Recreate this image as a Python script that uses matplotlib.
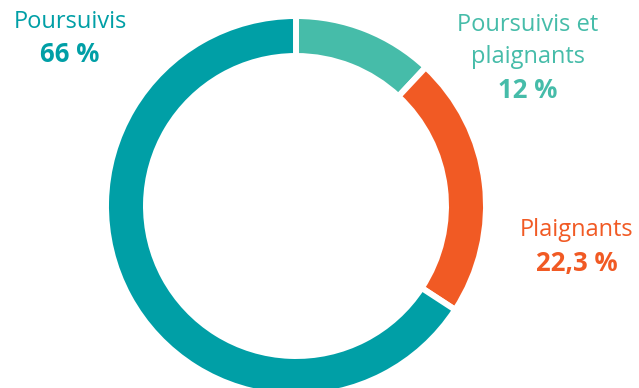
import matplotlib
matplotlib.use("Agg")
import matplotlib.pyplot as plt

labels = ["Poursuivis et\nplaignants", "Plaignants", "Poursuivis"]
values = [12, 22.3, 66]
pct_labels = ["12 %", "22,3 %", "66 %"]
colors = ["#46BCA9", "#F15A24", "#009FA6"]

plt.rcParams['font.family'] = ['Open Sans', 'DejaVu Sans']

fig = plt.figure(figsize=(6.39, 3.88), dpi=100)
ax = fig.add_axes([0, 0, 1, 1])

# donut, pixel coordinates (y up)
ax.pie(values, colors=colors, startangle=90, counterclock=False,
       center=(296, 182), radius=190,
       wedgeprops=dict(width=40, edgecolor="white", linewidth=4.3))
ax.set_xlim(0, 639)
ax.set_ylim(0, 388)
ax.set_aspect('equal')
ax.axis('off')

# label block: x centre, y of first line (pixels from top)
pos = [(528, 25), (577, 230), (70, 22)]
step = 32
for lab, pct, c, (x, y) in zip(labels, pct_labels, colors, pos):
    lines = lab.split("\n")
    for i, line in enumerate(lines):
        ax.text(x, 388 - (y + i * step), line, color=c, fontsize=17,
                ha="center", va="center")
    ax.text(x, 388 - (y + len(lines) * step + 1), pct, color=c, fontsize=18.5,
            fontweight="bold", ha="center", va="center")

fig.savefig("out.png", dpi=100)
